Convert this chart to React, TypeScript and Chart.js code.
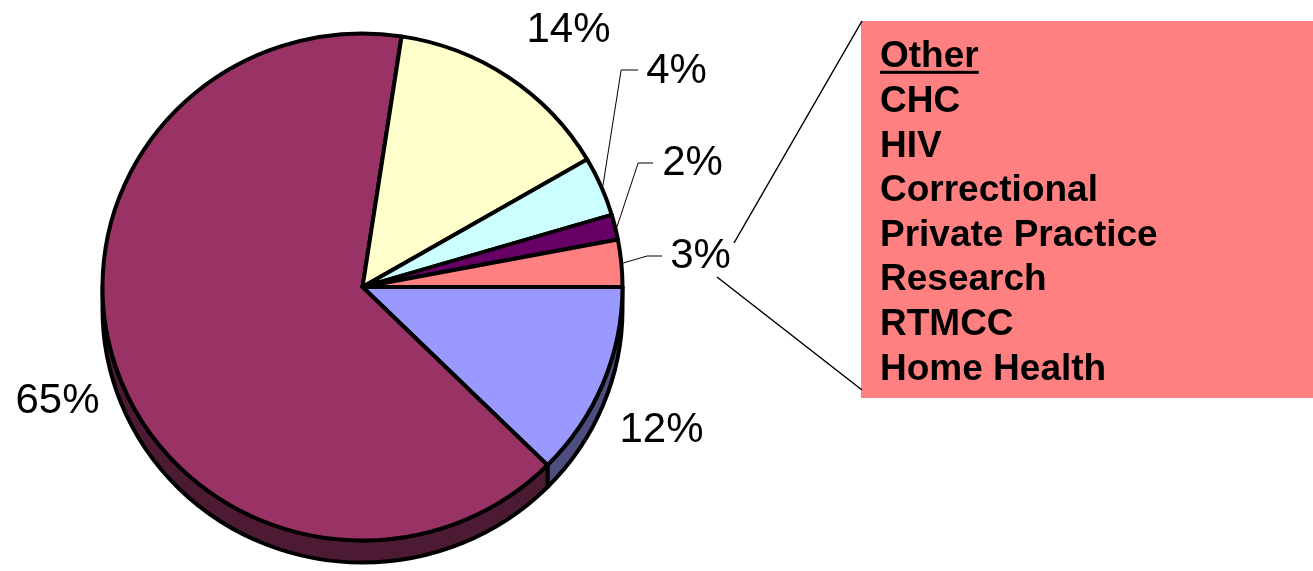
import { useEffect, useRef } from "react";
import { Chart, registerables } from "chart.js";

Chart.register(...registerables);

// ---- data ----
const categories = ["Segment A", "Segment B", "Segment C", "Segment D", "Segment E", "Other"];
const values = [12.4, 65.0, 14.2, 3.8, 1.6, 3.0];
const topColors = ["#9999FF", "#993366", "#FFFFCC", "#CCFFFF", "#660066", "#FF8080"];
const sideColors = ["#4D4D80", "#4D1A33", "#80806A", "#668080", "#330033", "#804040"];
const otherTitle = "Other";
const otherItems = ["CHC", "HIV", "Correctional", "Private Practice", "Research", "RTMCC", "Home Health"];

// ---- layout / style (not data) ----
const W = 1313;
const H = 571;
const K = 0.975; // vertical squash of the pie (slight ellipse)
const DEPTH = 22; // extrusion depth in px
const LINE = 4;
const LABEL_FONT = "42px 'Liberation Sans', Arial, sans-serif";
const BOX_FONT = "bold 37px 'Liberation Sans', Arial, sans-serif";
// label text anchor (centre x, baseline y) relative to pie centre
const labelOffsets: [number, number][] = [
  [299, 155],
  [-305, 126],
  [206, -245],
  [314, -204],
  [330, -112],
  [338, -19],
];
// leader lines: [elbow gap from text left, end gap, y above baseline]
const leaders: (null | [number, number, number])[] = [
  null,
  null,
  null,
  [25, 8, 13],
  [24, 9, 12],
  [23, 8, 12],
];

const TAU = Math.PI * 2;

const pie3d = {
  id: "pie3d",
  beforeDatasetsDraw(chart: any) {
    const ctx: CanvasRenderingContext2D = chart.ctx;
    const arcs = chart.getDatasetMeta(0).data;
    if (!arcs.length) return;
    const cx = arcs[0].x;
    const cy = arcs[0].y;
    ctx.save();
    ctx.translate(cx, cy);
    ctx.scale(1, K);
    ctx.translate(-cx, -cy);
    const d = DEPTH / K;
    arcs.forEach((arc: any, i: number) => {
      const r = arc.outerRadius;
      let s = arc.startAngle;
      let e = arc.endAngle;
      while (s < 0) { s += TAU; e += TAU; }
      while (s >= TAU) { s -= TAU; e -= TAU; }
      for (const base of [0, TAU]) {
        const a = Math.max(s, base);
        const b = Math.min(e, base + Math.PI);
        if (b <= a) continue;
        ctx.beginPath();
        ctx.arc(cx, cy, r, a, b);
        ctx.lineTo(cx + r * Math.cos(b), cy + d + r * Math.sin(b));
        ctx.arc(cx, cy + d, r, b, a, true);
        ctx.closePath();
        ctx.fillStyle = sideColors[i];
        ctx.fill();
        ctx.lineWidth = LINE;
        ctx.lineJoin = "round";
        ctx.strokeStyle = "#000";
        ctx.stroke();
      }
    });
  },
  afterDatasetsDraw(chart: any) {
    const ctx: CanvasRenderingContext2D = chart.ctx;
    ctx.restore();
  },
  afterDraw(chart: any) {
    const ctx: CanvasRenderingContext2D = chart.ctx;
    const arcs = chart.getDatasetMeta(0).data;
    if (!arcs.length) return;
    const cx = arcs[0].x;
    const cy = arcs[0].y;
    ctx.save();
    // percentage labels
    ctx.font = LABEL_FONT;
    ctx.fillStyle = "#000";
    ctx.textAlign = "center";
    ctx.textBaseline = "alphabetic";
    arcs.forEach((arc: any, i: number) => {
      const txt = Math.round(values[i]) + "%";
      const lx = cx + labelOffsets[i][0];
      const ly = cy + labelOffsets[i][1];
      ctx.fillText(txt, lx, ly);
      const ld = leaders[i];
      if (ld) {
        const w = ctx.measureText(txt).width;
        const left = lx - w / 2;
        const mid = (arc.startAngle + arc.endAngle) / 2;
        const R = arc.outerRadius + 2;
        const sx = cx + R * Math.cos(mid);
        const sy = cy + K * R * Math.sin(mid);
        ctx.beginPath();
        ctx.moveTo(sx, sy);
        ctx.lineTo(left - ld[0], ly - ld[2]);
        ctx.lineTo(left - ld[1], ly - ld[2]);
        ctx.lineWidth = 1;
        ctx.strokeStyle = "#000";
        ctx.stroke();
      }
    });

    // breakdown box for "Other"
    const bx = 861, by = 21, bw = W - 861, bh = 377;
    ctx.fillStyle = topColors[5];
    ctx.fillRect(bx, by, bw, bh);

    // callout lines from the 3% label to the box
    ctx.beginPath();
    ctx.moveTo(734, 243);
    ctx.lineTo(bx + 1, by);
    ctx.moveTo(717, 277);
    ctx.lineTo(bx + 1, by + bh - 8);
    ctx.lineWidth = 1.5;
    ctx.strokeStyle = "#000";
    ctx.stroke();

    ctx.font = BOX_FONT;
    ctx.fillStyle = "#000";
    ctx.textAlign = "left";
    const tx = 880;
    const y0 = 67.3;
    const step = 44.6;
    ctx.fillText(otherTitle, tx, y0);
    const tw = ctx.measureText(otherTitle).width;
    ctx.fillRect(tx, y0 + 3.5, tw, 3);
    otherItems.forEach((t, i) => {
      ctx.fillText(t, tx, y0 + step * (i + 1));
    });
    ctx.restore();
  },
};

export default function App() {
  const ref = useRef<HTMLCanvasElement | null>(null);
  useEffect(() => {
    if (!ref.current) return;
    const chart = new Chart(ref.current, {
      type: "pie",
      data: {
        labels: categories,
        datasets: [
          {
            data: values,
            backgroundColor: topColors,
            borderColor: "#000",
            borderWidth: LINE,
            hoverOffset: 0,
            offset: 0,
            clip: false as any,
          } as any,
        ],
      },
      options: {
        responsive: false,
        animation: false,
        events: [],
        rotation: 90,
        radius: 260,
        layout: { padding: { left: 102, right: W - 623, top: 27, bottom: H - 547 } },
        plugins: {
          legend: { display: false },
          tooltip: { enabled: false },
        },
        elements: { arc: { borderJoinStyle: "round" } as any },
      },
      plugins: [pie3d],
    });
    return () => chart.destroy();
  }, []);
  return (
    <div style={{ position: "absolute", left: 0, top: 0, width: W, height: H, background: "#fff" }}>
      <canvas ref={ref} width={W} height={H} style={{ display: "block", width: W, height: H }} />
    </div>
  );
}
